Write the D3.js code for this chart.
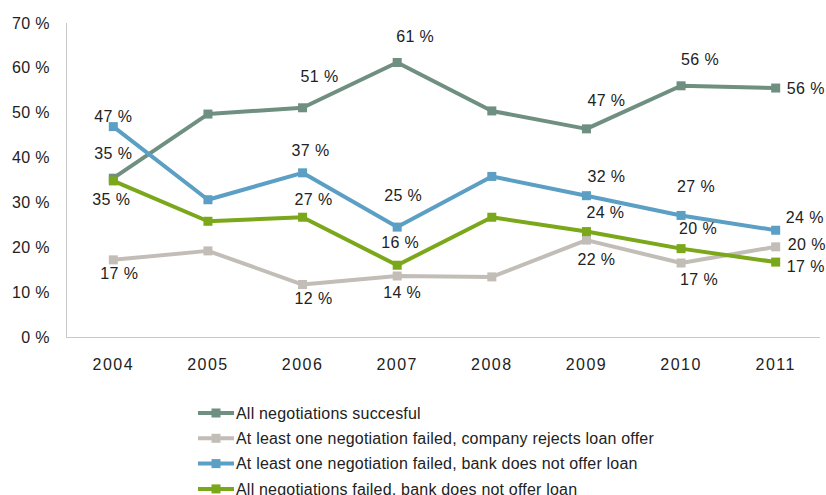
<!DOCTYPE html>
<html>
<head>
<meta charset="utf-8">
<script src="https://cdn.jsdelivr.net/npm/d3@7"></script>
<style>
  html, body { margin: 0; padding: 0; background: #fff; }
  svg { display: block; font-family: "Liberation Sans", Arial, sans-serif; }
</style>
</head>
<body>
<svg id="chart" width="826" height="495"></svg>
<script>
// Years on the horizontal axis
const years = ["2004", "2005", "2006", "2007", "2008", "2009", "2010", "2011"];

// Share of companies (%) per outcome
const allSuccessful   = [35.4, 49.7, 51.1, 61.2, 50.4, 46.4, 56.0, 55.5];
const companyRejects  = [17.2, 19.2, 11.7, 13.6, 13.4, 21.6, 16.5, 20.1];
const bankNoOfferOne  = [46.9, 30.6, 36.6, 24.5, 35.8, 31.5, 27.1, 23.8];
const bankNoOfferAll  = [34.8, 25.8, 26.7, 16.0, 26.7, 23.5, 19.7, 16.7];

// Which points carry a value label (null = no label)
const labelsSuccessful = [35, null, 51, 61, null, 47, 56, 56];
const labelsRejects    = [17, null, 12, 14, null, 22, 17, 20];
const labelsOneFailed  = [47, null, 37, 25, null, 32, 27, 24];
const labelsAllFailed  = [35, null, 27, 16, null, 24, 20, 17];

const seriesNames = [
  "All negotiations succesful",
  "At least one negotiation failed, company rejects loan offer",
  "At least one negotiation failed, bank does not offer loan",
  "All negotiations failed, bank does not offer loan"
];

const yTicks = [0, 10, 20, 30, 40, 50, 60, 70];

// Label placement (pixel offsets from the point; anchor) per series
const labelPlacement = [
  [[0,-25,"middle"], null, [17,-31,"middle"], [18,-26,"middle"], null, [20,-28,"middle"], [19,-26,"middle"], [11,0,"start"]],
  [[6,14,"middle"], null, [11,14,"middle"], [5,16,"middle"], null, [10,19,"middle"], [18,16,"middle"], [12,-2,"start"]],
  [[0,-10,"middle"], null, [8,-22,"middle"], [6,-32,"middle"], null, [20,-19,"middle"], [15,-29,"middle"], [10,-13,"start"]],
  [[-2,19,"middle"], null, [11,-18,"middle"], [3,-23,"middle"], null, [19,-19,"middle"], [17,-20,"middle"], [11,4,"start"]]
];

const colors = ["#6f8f80", "#c3bdb8", "#5b9fc4", "#7aa81a"];

const series = [
  { name: seriesNames[0], values: allSuccessful,  labels: labelsSuccessful, color: colors[0], place: labelPlacement[0] },
  { name: seriesNames[1], values: companyRejects, labels: labelsRejects,    color: colors[1], place: labelPlacement[1] },
  { name: seriesNames[2], values: bankNoOfferOne, labels: labelsOneFailed,  color: colors[2], place: labelPlacement[2] },
  { name: seriesNames[3], values: bankNoOfferAll, labels: labelsAllFailed,  color: colors[3], place: labelPlacement[3] }
];

const svg = d3.select("#chart");
const plot = { left: 66, right: 823, top: 23, bottom: 337 };

const x = d3.scaleBand().domain(years).range([plot.left, plot.right]);
const cx = d => x(d) + x.bandwidth() / 2;
const y = d3.scaleLinear().domain([0, 70]).range([plot.bottom, plot.top]);

// Axes: left axis line and baseline only
svg.append("line")
  .attr("x1", plot.left + 0.5).attr("x2", plot.left + 0.5)
  .attr("y1", plot.top).attr("y2", plot.bottom)
  .attr("stroke", "#c8c8c8").attr("stroke-width", 1);
svg.append("line")
  .attr("x1", plot.left).attr("x2", 820)
  .attr("y1", plot.bottom + 0.5).attr("y2", plot.bottom + 0.5)
  .attr("stroke", "#c8c8c8").attr("stroke-width", 1);

const yAxis = d3.axisLeft(y).tickValues(yTicks).tickSize(0).tickPadding(16)
  .tickFormat(d => d + " %");
svg.append("g").attr("transform", `translate(${plot.left},0)`).call(yAxis)
  .call(g => g.select(".domain").remove())
  .selectAll("text")
  .attr("font-size", 16).attr("fill", "#222")
  .attr("letter-spacing", "0.4px")
  .attr("font-family", "'Liberation Sans', Arial, sans-serif");

const xAxis = d3.axisBottom(x).tickSize(0).tickPadding(22);
svg.append("g").attr("transform", `translate(0,${plot.bottom})`).call(xAxis)
  .call(g => g.select(".domain").remove())
  .selectAll("text")
  .attr("font-size", 16).attr("fill", "#222")
  .attr("letter-spacing", "1.5px")
  .attr("font-family", "'Liberation Sans', Arial, sans-serif");

const line = d3.line()
  .x((d, i) => cx(years[i]))
  .y(d => y(d));

const ms = 9;

series.forEach(s => {
  const g = svg.append("g");
  g.append("path")
    .attr("d", line(s.values))
    .attr("fill", "none")
    .attr("stroke", s.color)
    .attr("stroke-width", 4)
    .attr("stroke-linejoin", "round");
  g.selectAll("rect").data(s.values).join("rect")
    .attr("x", (d, i) => cx(years[i]) - ms / 2)
    .attr("y", d => y(d) - ms / 2)
    .attr("width", ms).attr("height", ms)
    .attr("fill", s.color);
});

// Value labels
series.forEach(s => {
  s.values.forEach((v, i) => {
    if (s.labels[i] == null || !s.place[i]) return;
    const [dx, dy, anchor] = s.place[i];
    svg.append("text")
      .attr("x", cx(years[i]) + dx)
      .attr("y", y(v) + dy)
      .attr("dy", "0.35em")
      .attr("text-anchor", anchor)
      .attr("font-size", 16)
      .attr("letter-spacing", "0.4px")
      .attr("fill", "#222")
      .text(s.labels[i] + " %");
  });
});

// Legend
const legend = svg.append("g").attr("transform", "translate(198,413)");
series.forEach((s, i) => {
  const row = legend.append("g").attr("transform", `translate(0,${i * 25.3})`);
  row.append("line").attr("x1", 0).attr("x2", 36).attr("y1", 0).attr("y2", 0)
    .attr("stroke", s.color).attr("stroke-width", 4);
  row.append("rect").attr("x", 18 - ms / 2).attr("y", -ms / 2)
    .attr("width", ms).attr("height", ms).attr("fill", s.color);
  row.append("text").attr("x", 38).attr("y", 0).attr("dy", "0.35em")
    .attr("font-size", 16).attr("letter-spacing", "0.2px")
    .attr("fill", "#222").text(s.name);
});
</script>
</body>
</html>
